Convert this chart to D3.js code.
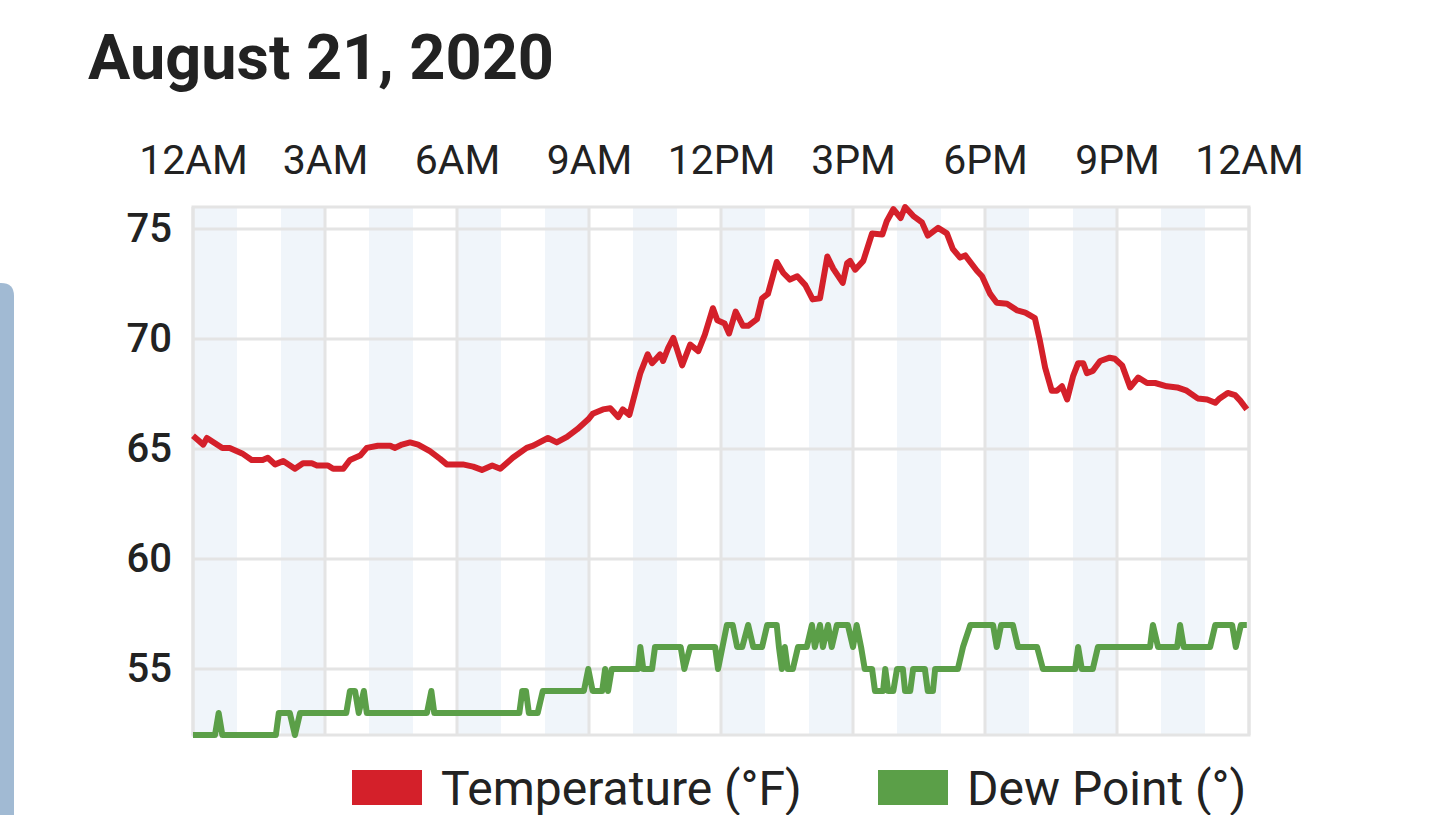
<html>
<meta name="viewport" content="width=device-width, initial-scale=1">
<head>
    <script src="https://d3js.org/d3.v7.js"></script>
    <style>
        body { margin: 0; background: #fff; font-family: Roboto, "Noto Sans", sans-serif; }
    </style>
</head>
<body>
<svg width="1434" height="815"></svg>
<script>
// tick labels (every 3 hours, minutes since midnight)
var hourTicks = [0, 180, 360, 540, 720, 900, 1080, 1260, 1440];
var hourLabels = ["12AM", "3AM", "6AM", "9AM", "12PM", "3PM", "6PM", "9PM", "12AM"];
var tempTicks = [55, 60, 65, 70, 75];

// temperature readings: [minute of day, °F]
var temperature = [
    [0,65.6],[14,65.2],[19,65.5],[40,65.05],[50,65.05],[67,64.8],[80,64.5],[95,64.5],
    [102,64.6],[112,64.3],[123,64.45],[139,64.1],[150,64.35],[162,64.35],[169,64.25],
    [184,64.25],[191,64.1],[205,64.1],[214,64.5],[228,64.7],[237,65.05],[252,65.15],
    [269,65.15],[275,65.05],[285,65.2],[296,65.3],[307,65.2],[323,64.9],[337,64.55],
    [346,64.3],[368,64.3],[382,64.2],[394,64.05],[408,64.25],[419,64.1],[436,64.6],
    [455,65.05],[464,65.15],[484,65.5],[496,65.3],[510,65.55],[524,65.9],[539,66.35],
    [545,66.6],[559,66.8],[569,66.85],[580,66.45],[586,66.8],[595,66.55],[610,68.45],
    [620,69.3],[626,68.9],[637,69.3],[641,69.0],[648,69.6],[655,70.05],[667,68.8],
    [678,69.75],[689,69.45],[698,70.2],[709,71.4],[715,70.85],[725,70.7],[731,70.25],
    [740,71.25],[750,70.6],[757,70.6],[769,70.9],[776,71.85],[784,72.05],[796,73.5],
    [805,73.0],[814,72.7],[824,72.85],[835,72.45],[845,71.8],[855,71.85],[865,73.75],
    [873,73.2],[886,72.55],[892,73.45],[896,73.55],[903,73.15],[914,73.55],[926,74.8],
    [940,74.75],[946,75.35],[955,75.9],[965,75.5],[971,76.0],[982,75.6],[994,75.3],
    [1002,74.7],[1016,75.05],[1028,74.8],[1036,74.1],[1046,73.7],[1053,73.8],[1069,73.1],
    [1076,72.85],[1087,72.05],[1096,71.65],[1110,71.6],[1124,71.3],[1135,71.2],[1148,70.95],
    [1155,69.9],[1162,68.7],[1171,67.65],[1178,67.65],[1185,67.85],[1192,67.25],[1200,68.3],
    [1207,68.9],[1214,68.9],[1219,68.45],[1227,68.55],[1237,69.0],[1250,69.15],[1257,69.1],
    [1267,68.8],[1278,67.8],[1289,68.25],[1301,68.0],[1312,68.0],[1328,67.85],[1342,67.8],
    [1355,67.65],[1370,67.3],[1383,67.25],[1394,67.1],[1400,67.3],[1411,67.55],[1421,67.45],
    [1428,67.2],[1437,66.8]
];

// dew point readings: [minute of day, °]
var dewPoint = [
    [0,52],[30,52],[35,53],[40,52],[113,52],[117,53],[132,53],[139,52],[146,53],[209,53],
    [214,54],[221,54],[226,53],[233,54],[237,53],[319,53],[325,54],[329,53],[445,53],
    [449,54],[454,54],[458,53],[470,53],[477,54],[533,54],[539,55],[545,54],[558,54],
    [562,55],[566,54],[571,55],[607,55],[610,56],[614,55],[626,55],[630,56],[665,56],
    [670,55],[678,56],[712,56],[716,55],[728,57],[736,57],[742,56],[749,56],[757,57],
    [764,56],[776,56],[783,57],[796,57],[799,56],[803,55],[807,56],[811,55],[818,55],
    [825,56],[837,56],[844,57],[848,56],[855,57],[859,56],[866,57],[871,56],[878,57],
    [893,57],[900,56],[905,57],[911,56],[916,55],[926,55],[930,54],[941,54],[944,55],
    [948,54],[955,54],[960,55],[968,55],[971,54],[978,54],[982,55],[998,55],[1002,54],
    [1009,54],[1012,55],[1043,55],[1050,56],[1060,57],[1091,57],[1096,56],[1102,57],
    [1118,57],[1125,56],[1151,56],[1159,55],[1203,55],[1207,56],[1212,55],[1227,55],
    [1234,56],[1305,56],[1309,57],[1316,56],[1342,56],[1346,57],[1351,56],[1387,56],
    [1394,57],[1417,57],[1422,56],[1429,57],[1437,57]
];

var legendItems = ["Temperature (°F)", "Dew Point (°)"];
var seriesColors = ["#d4202a", "#5b9f48"];

var svg = d3.select("svg");
var plotLeft = 193, plotRight = 1249, plotTop = 207, plotBottom = 735;

var x = d3.scaleLinear().domain([0, 1440]).range([plotLeft, plotRight]);
var y = d3.scaleLinear().domain([52, 76]).range([plotBottom, plotTop]);

// side card peeking in on the left
svg.append("path")
    .attr("d", "M0,283 L1,283 Q14,283 14,296 L14,815 L0,815 Z")
    .style("fill", "#a1bad3");

// title
svg.append("text")
    .attr("x", 88)
    .attr("y", 79)
    .style("font-size", "63px")
    .style("font-weight", "bold")
    .style("fill", "#222")
    .text("August 21, 2020");

var background = svg.append("g");
var foreground = svg.append("g");

// hourly shaded bands on even hours
var hours = d3.range(0, 24, 2);
background.selectAll("rect.band")
    .data(hours)
    .enter()
    .append("rect")
    .attr("class", "band")
    .attr("x", function(h) { return x(h * 60); })
    .attr("y", plotTop)
    .attr("width", function(h) { return x((h + 1) * 60) - x(h * 60); })
    .attr("height", plotBottom - plotTop)
    .style("fill", "#f0f5fa");

// grid lines
background.selectAll("line.hgrid")
    .data(tempTicks)
    .enter()
    .append("line")
    .attr("x1", plotLeft).attr("x2", plotRight)
    .attr("y1", function(d) { return y(d); })
    .attr("y2", function(d) { return y(d); })
    .style("stroke", "#e4e4e4")
    .style("stroke-width", 3);

background.selectAll("line.vgrid")
    .data(hourTicks)
    .enter()
    .append("line")
    .attr("x1", function(d) { return x(d); })
    .attr("x2", function(d) { return x(d); })
    .attr("y1", plotTop).attr("y2", plotBottom)
    .style("stroke", "#e4e4e4")
    .style("stroke-width", 3);

background.append("rect")
    .attr("x", plotLeft)
    .attr("y", plotTop)
    .attr("width", plotRight - plotLeft)
    .attr("height", plotBottom - plotTop)
    .style("fill", "none")
    .style("stroke", "#e4e4e4")
    .style("stroke-width", 3);

// axes
var xAxis = d3.axisTop(x)
    .tickValues(hourTicks)
    .tickFormat(function(d, i) { return hourLabels[i]; })
    .tickSize(0)
    .tickPadding(33);

var gx = svg.append("g").attr("transform", "translate(0," + plotTop + ")").call(xAxis);
gx.select(".domain").remove();
gx.selectAll("text")
    .style("font-family", "Roboto")
    .style("font-size", "41px")
    .style("fill", "#222");

var yAxis = d3.axisLeft(y)
    .tickValues(tempTicks)
    .tickSize(0)
    .tickPadding(21);

var gy = svg.append("g").attr("transform", "translate(" + plotLeft + ",0)").call(yAxis);
gy.select(".domain").remove();
gy.selectAll("text")
    .style("font-family", "Roboto")
    .style("font-size", "40px")
    .style("font-weight", 500)
    .style("fill", "#222");

// lines
var line = d3.line()
    .x(function(d) { return x(d[0]); })
    .y(function(d) { return y(d[1]); });

foreground.append("path")
    .datum(dewPoint)
    .attr("d", line)
    .style("fill", "none")
    .style("stroke", seriesColors[1])
    .style("stroke-width", 6)
    .style("stroke-linejoin", "round");

foreground.append("path")
    .datum(temperature)
    .attr("d", line)
    .style("fill", "none")
    .style("stroke", seriesColors[0])
    .style("stroke-width", 6)
    .style("stroke-linejoin", "round");

// legend
var legendX = [352, 878];
var legend = svg.selectAll("g.legend")
    .data(legendItems)
    .enter()
    .append("g")
    .attr("class", "legend")
    .attr("transform", function(d, i) { return "translate(" + legendX[i] + ",770)"; });

legend.append("rect")
    .attr("width", 70)
    .attr("height", 35)
    .style("fill", function(d, i) { return seriesColors[i]; });

legend.append("text")
    .attr("x", 89)
    .attr("y", 35)
    .style("font-size", "48px")
    .style("fill", "#222")
    .text(function(d) { return d; });
</script>
</body>
</html>
